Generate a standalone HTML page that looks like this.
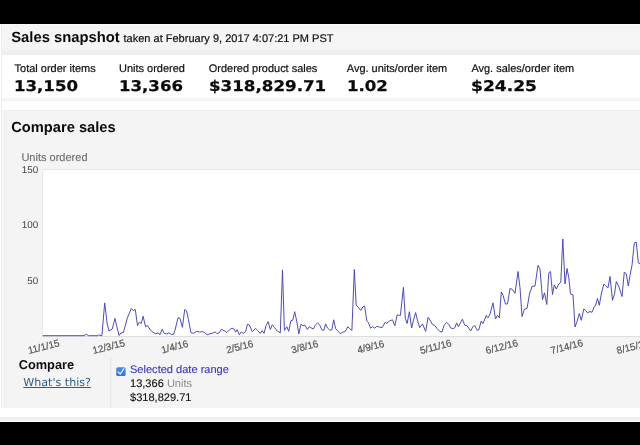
<!DOCTYPE html>
<html lang="en">
<head>
<meta charset="utf-8">
<title>Sales snapshot</title>
<style>
html,body{margin:0;padding:0;}
body{width:640px;height:445px;overflow:hidden;background:#fff;position:relative;font-family:"Liberation Sans",Arial,sans-serif;color:#111;text-rendering:geometricPrecision;}
.abs{position:absolute;white-space:nowrap;line-height:1;}
.blk{position:absolute;left:0;width:640px;background:#000;}
.box{position:absolute;}
.xl{font-size:9.9px;color:#555;-webkit-text-stroke:0.2px #555;transform:translate(-50%,-50%) rotate(-14.5deg);}
#chart{position:absolute;left:42px;top:169px;width:598px;height:168px;background:#fff;border-left:1px solid #e6e6e6;border-top:1px solid #e6e6e6;border-bottom:1px solid #dedede;box-sizing:border-box;}
#svg{position:absolute;left:0;top:0;}
</style>
</head>
<body>
  <div class="blk" style="top:0;height:24px;"></div>
  <div class="blk" style="top:422px;height:23px;"></div>

  <div class="box" style="left:2px;top:24px;width:638px;height:31px;background:linear-gradient(#fbfbfb 0,#f5f5f5 5%,#f5f5f5 72%,#ececec 100%);"></div>
  <div class="box" style="left:2px;top:97px;width:638px;height:4px;background:linear-gradient(#fdfdfd,#eeeeee);"></div>
  <div class="box" style="left:2px;top:110px;width:638px;height:298px;background:#f4f4f4;border-top:1px solid #ededed;box-sizing:border-box;"></div>
  <div class="box" style="left:1px;top:24px;width:1px;height:384px;background:#ececec;"></div>
  <div class="box" style="left:0;top:417px;width:640px;height:4px;background:linear-gradient(#ececec,#f5f5f5);"></div>
  <div class="box" style="left:2px;top:110px;width:2px;height:298px;background:#f7f7f7;"></div>
  <div class="box" style="left:4px;top:110px;width:1px;height:298px;background:#efefef;"></div>

  <div class="abs" style="left:11.2px;top:30.97px;font-size:14.8px;font-weight:bold;color:#0a0a0a;">Sales snapshot</div>
  <div class="abs" style="left:123.5px;top:33.57px;font-size:11.02px;color:#111;-webkit-text-stroke:0.2px #111;">taken at February 9, 2017 4:07:21 PM PST</div>

  <div class="abs" style="left:14.6px;top:64.21px;font-size:10.98px;color:#111;-webkit-text-stroke:0.2px #111;">Total order items</div>
  <div class="abs" style="left:14.4px;top:79.58px;font-size:14.8px;font-family:'DejaVu Sans','Liberation Sans',sans-serif;font-weight:bold;color:#0a0a0a;transform:scaleX(1.12);transform-origin:0 0;-webkit-text-stroke:0.25px #0a0a0a;">13,150</div>
  <div class="abs" style="left:119px;top:64.21px;font-size:10.98px;color:#111;-webkit-text-stroke:0.2px #111;">Units ordered</div>
  <div class="abs" style="left:119.2px;top:79.58px;font-size:14.8px;font-family:'DejaVu Sans','Liberation Sans',sans-serif;font-weight:bold;color:#0a0a0a;transform:scaleX(1.12);transform-origin:0 0;-webkit-text-stroke:0.25px #0a0a0a;">13,366</div>
  <div class="abs" style="left:208.8px;top:64.21px;font-size:10.98px;color:#111;-webkit-text-stroke:0.2px #111;">Ordered product sales</div>
  <div class="abs" style="left:208.8px;top:79.58px;font-size:14.8px;font-family:'DejaVu Sans','Liberation Sans',sans-serif;font-weight:bold;color:#0a0a0a;transform:scaleX(1.128);transform-origin:0 0;-webkit-text-stroke:0.25px #0a0a0a;">$318,829.71</div>
  <div class="abs" style="left:346.8px;top:64.21px;font-size:10.98px;color:#111;-webkit-text-stroke:0.2px #111;">Avg. units/order item</div>
  <div class="abs" style="left:346.9px;top:79.58px;font-size:14.8px;font-family:'DejaVu Sans','Liberation Sans',sans-serif;font-weight:bold;color:#0a0a0a;transform:scaleX(1.12);transform-origin:0 0;-webkit-text-stroke:0.25px #0a0a0a;">1.02</div>
  <div class="abs" style="left:471.4px;top:64.21px;font-size:10.98px;color:#111;-webkit-text-stroke:0.2px #111;">Avg. sales/order item</div>
  <div class="abs" style="left:471.4px;top:79.58px;font-size:14.8px;font-family:'DejaVu Sans','Liberation Sans',sans-serif;font-weight:bold;color:#0a0a0a;transform:scaleX(1.155);transform-origin:0 0;-webkit-text-stroke:0.25px #0a0a0a;">$24.25</div>

  <div class="abs" style="left:11.2px;top:121.16px;font-size:14.7px;font-weight:bold;color:#0a0a0a;">Compare sales</div>

  <div class="abs" style="left:21.4px;top:152.77px;font-size:11.02px;color:#707070;-webkit-text-stroke:0.15px #707070;">Units ordered</div>
  <div class="abs" style="right:601.8px;top:166.36px;font-size:9.85px;color:#444;">150</div>
  <div class="abs" style="right:601.8px;top:221.46px;font-size:9.85px;color:#444;">100</div>
  <div class="abs" style="right:601.8px;top:277.26px;font-size:9.85px;color:#444;">50</div>

  <div id="chart"></div>
  <svg id="svg" width="640" height="445" viewBox="0 0 640 445">
    <polyline fill="none" stroke="#4343b4" stroke-width="0.95" stroke-linejoin="round" points="42.8,335.7 84,335.7 86.3,334.2 88.4,335.7 97.2,335.7 98.7,335 101.9,335.7 104.7,302.9 107.1,323.1 109,331 112.2,329.1 115,318.4 116.9,326.9 119.1,335.5 121,333 123.4,332.5 127.2,318.4 131.3,308.5 133.2,310.6 135.3,309.6 137.5,325.6 139.4,322.2 141.3,323.5 143.1,316.2 145.6,326.9 147.3,325.4 150.6,330.3 152.8,332.1 155.6,333.8 158.4,332.9 159.8,334.8 162.2,329.3 164.1,333.4 166.9,334 168.8,332.9 171.6,334.4 173.4,334.4 174.9,330.6 178.1,317.5 180,318.4 182.4,327.3 184.7,309.6 186.6,310.9 188.4,319.4 190.9,332.5 193.5,333.4 196.9,331.2 199.7,332.1 202.5,331.6 204.4,332.5 207.2,334.8 210,333.8 212.8,333.1 215.3,331.9 217.1,333.8 219.4,332.5 221.3,329.3 224.1,330.6 226.9,332.5 229.7,329.7 231.9,328.2 233.8,328.8 235.7,332.1 237.2,329.7 239.4,334.8 241.3,331.9 243.2,333.4 245.6,331.6 247.5,324.1 249.4,325 252.2,331.6 255.6,328.4 257.8,330.6 260.3,333.4 262.1,330.6 264,333.4 266,325.8 268.1,321.6 270.3,329.5 272.2,324.8 274.6,327.6 277.3,331 280.3,332.9 282.5,269.9 284.4,330.4 286.8,326.7 288.7,331.4 290.9,320.7 292.8,320.1 294.7,311.7 296.9,322 298.8,333.8 300.9,324.3 303.1,325.8 305,325.2 307.3,329.5 309.3,326.7 311.2,328 313.4,328.9 315.3,325.2 317.6,322.9 319.6,324.8 321.9,329.9 323.8,330.4 325.6,323.9 327.5,328 329.8,330.1 331.8,329.9 333.7,319.8 335.6,328.6 337.8,331 340.3,333.6 342.5,332.3 345.3,331.4 347.8,326.7 349.6,328.6 351.9,330.4 354.3,269.5 356.2,305.1 358.4,307.4 360.7,310.4 362.8,307 364.6,306.1 366.9,321.1 368.4,322.6 370.6,328.2 372.5,326.7 374.8,328.2 376.8,326.3 379.4,327.1 382.2,327.6 385,322.4 386.9,323.3 389.3,321.1 392.5,319.8 394.8,325.8 397.2,314.9 400.4,315.4 403.4,287.3 405.3,318.3 407.1,323.5 409.4,311.7 411.6,328 413.5,320.1 415.6,312.6 417.4,320.1 419.7,327.6 422.5,323.9 425.7,331.4 428.1,317.3 430,320.1 432.3,324.3 434.7,325.4 437.1,328.6 439.4,331 441.8,332.3 444.1,325.4 446.5,322.4 448.8,324.3 450.6,328 453.4,328.6 454.9,327.6 456.6,322.9 458.5,326.7 460.9,322 462.4,319.2 464.7,325.2 467.1,325.8 470.7,331 472.8,326.7 474.6,325.4 477.3,330.4 478.8,329.9 481.2,321 483,323.5 486.3,315.3 488,317.8 490,314 493,302.8 495.5,319 497.5,315.3 499.3,317.8 501.3,292 503,295.3 505.5,304 507.5,304 510,288.5 512.5,289.5 515,293.3 518,271.5 520,287.8 522,316.5 524.5,309 527,308.5 529.5,294 532,286.5 535,286 538,265.3 540,269 542.5,299.5 544.5,292.8 546.8,304.5 548.8,272.8 550.5,271.5 552.5,294.5 554.3,284.8 556.3,289 558.8,284 560.8,282.3 562.8,239 565,284 567,268.5 568.8,277.8 570.5,294 573,294.8 575,327 577,321.5 579.3,313.5 581.3,320.3 583.8,309 585.5,310.3 587.5,312.8 590,311.5 592,312.3 593.8,307.8 595.5,305.3 597.5,298.5 599.3,305.3 601.3,294 603.8,284 605.8,286 608,287.8 610,276.5 612.5,300.3 614.5,294 616.3,281.5 618.8,286.5 622,296.5 624.3,272 626.3,274 628.3,286 630,275.3 632,265.3 634.3,242.8 636.3,242.3 638.3,262.8 640.5,264"/>
  </svg>

  <div class="abs xl" style="left:43.6px;top:347.8px;">11/1/15</div>
  <div class="abs xl" style="left:109.1px;top:347.8px;">12/3/15</div>
  <div class="abs xl" style="left:174.5px;top:347.8px;">1/4/16</div>
  <div class="abs xl" style="left:240.0px;top:347.8px;">2/5/16</div>
  <div class="abs xl" style="left:305.4px;top:347.8px;">3/8/16</div>
  <div class="abs xl" style="left:370.9px;top:347.8px;">4/9/16</div>
  <div class="abs xl" style="left:436.3px;top:347.8px;">5/11/16</div>
  <div class="abs xl" style="left:501.8px;top:347.8px;">6/12/16</div>
  <div class="abs xl" style="left:567.2px;top:347.8px;">7/14/16</div>
  <div class="abs xl" style="left:632.7px;top:347.8px;">8/15/16</div>

  <div class="abs" style="left:18.7px;top:358.56px;font-size:12.8px;font-weight:bold;color:#111;">Compare</div>
  <div class="abs" style="left:23.3px;top:377.31px;font-size:11.1px;font-family:'DejaVu Sans','Liberation Sans',sans-serif;color:#2e5c8a;text-decoration:underline;text-decoration-thickness:0.8px;text-underline-offset:0.9px;">What's this?</div>
  <div class="box" style="left:110px;top:358px;width:1px;height:50px;background:#e8e8e8;"></div>
  <div class="box" style="left:111px;top:358px;width:1px;height:50px;background:#efefef;"></div>
  <svg style="position:absolute;left:116.3px;top:366.7px;" width="9.8" height="9.3" viewBox="0 0 10 10" preserveAspectRatio="none">
    <defs><linearGradient id="cbg" x1="0" y1="0" x2="0" y2="1"><stop offset="0" stop-color="#4a8ef2"/><stop offset="1" stop-color="#2f72de"/></linearGradient></defs>
    <rect x="0.2" y="0.2" width="9.6" height="9.6" rx="1.8" fill="url(#cbg)"/>
    <path d="M2.1 5.2 L4.4 7.5 L8 1.9" fill="none" stroke="#eaf6ff" stroke-width="1.35" stroke-linecap="round" stroke-linejoin="round"/>
  </svg>
  <div class="abs" style="left:130px;top:364.55px;font-size:11.05px;color:#3838bc;-webkit-text-stroke:0.12px #3838bc;">Selected date range</div>
  <div class="abs" style="left:130px;top:378.75px;font-size:11.05px;color:#111;"><span style="-webkit-text-stroke:0.12px #111;">13,366</span> <span style="color:#888;">Units</span></div>
  <div class="abs" style="left:130px;top:392.65px;font-size:11.05px;color:#111;-webkit-text-stroke:0.12px #111;">$318,829.71</div>
</body>
</html>
